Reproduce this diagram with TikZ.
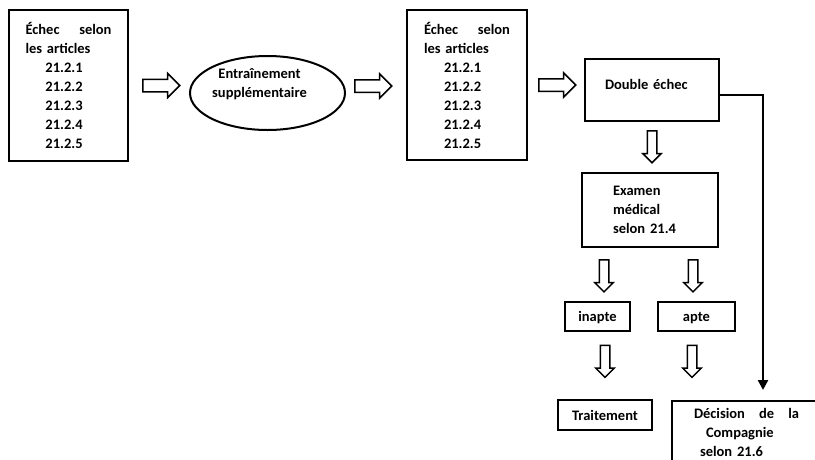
\documentclass[tikz,border=0pt]{standalone}
\usepackage{fontspec}
\setmainfont{Carlito}
\usetikzlibrary{shapes,arrows.meta,positioning}

\begin{document}
\begin{tikzpicture}[
  x=1pt, y=-1pt,
  font=\bfseries\fontsize{14.5}{19}\selectfont,
  box/.style={
    draw,
    line width=2pt,
%    inner sep=5pt,
    inner sep=0pt},
  blockarrow/.style={
    single arrow,
    draw,
    line width=1.5pt,
    inner sep=5.5pt,
    minimum height=37pt,
    single arrow head extend=6pt},
  downarrow/.style={
    blockarrow,
    shape border rotate=270,
    inner sep=4pt,
    minimum height=32pt,
    single arrow head extend=4.5pt}
  ]
    \useasboundingbox (0,0) rectangle (815,459);
    \clip (0,0) rectangle (815,459);
    \node[box, minimum width=119pt, minimum height=151pt, text width=86pt, align=left] (fail1) at (68.5,85.5)
        {Échec\hfill selon\\les articles\\\hspace*{20pt}21.2.1\\\hspace*{20pt}21.2.2\\\hspace*{20pt}21.2.3\\\hspace*{20pt}21.2.4\\\hspace*{20pt}21.2.5};
    \node[box, ellipse, minimum width=155pt, minimum height=74pt,
        label={[name=trainlbl, align=center, xshift=-8pt, yshift=8.5pt]center:Entraînement\\supplémentaire}] (train) at (267.5,93) {};
    \node[box, minimum width=120pt, minimum height=150pt, text width=86pt, align=left] (fail2) at (467,85)
        {Échec\hfill selon\\les articles\\\hspace*{20pt}21.2.1\\\hspace*{20pt}21.2.2\\\hspace*{20pt}21.2.3\\\hspace*{20pt}21.2.4\\\hspace*{20pt}21.2.5};
    \node[box, anchor=north west, minimum width=134pt, minimum height=62pt, text width=94pt, align=left,
        text height=11pt, text depth=13pt] (dbl) at (584,58) {Double échec};
    \node[box, minimum width=136pt, minimum height=74pt, text width=74pt, align=left] (exam) at (650,210)
        {Examen\\médical\\selon 21.4};
    \node[box, minimum width=65pt, minimum height=29pt, text height=10pt, text depth=0pt] (inapte) at (597.5,316.5) {inapte};
    \node[box, minimum width=77pt, minimum height=29pt, text height=10pt, text depth=0pt] (apte) at (696.5,316.5) {apte};
    \node[box, minimum width=94pt, minimum height=30pt] (treat) at (605,415) {Traitement};
    \node[box, anchor=north west, text width=105pt, inner xsep=22pt, inner ysep=7pt, align=left] (decis) at (671,400)
        {Décision\hfill de\hfill la\\\hspace*{12pt}Compagnie\\\hspace*{6pt}selon 21.6\\\mbox{}};
    % block arrows
    \node[blockarrow, right=13pt of fail1] (a1) {};
    \node[blockarrow, right=8pt of train, yshift=7pt] (a2) {};
    \node[blockarrow, right=10pt of fail2] (a3) {};
    \node[downarrow, below=8pt of dbl] (a4) {};
    \node[downarrow] (a5) at (604,273.5) {};
    \node[downarrow] (a6) at (693,273.5) {};
    \node[downarrow] (a7) at (605,359) {};
    \node[downarrow] (a8) at (692,359) {};
    \draw[line width=2.4pt, -{Triangle[width=10pt,length=10pt]}, shorten >=10pt]
        ([yshift=-5pt]dbl.east) -| ([xshift=16.5pt]decis.north);
\end{tikzpicture}
\end{document}
